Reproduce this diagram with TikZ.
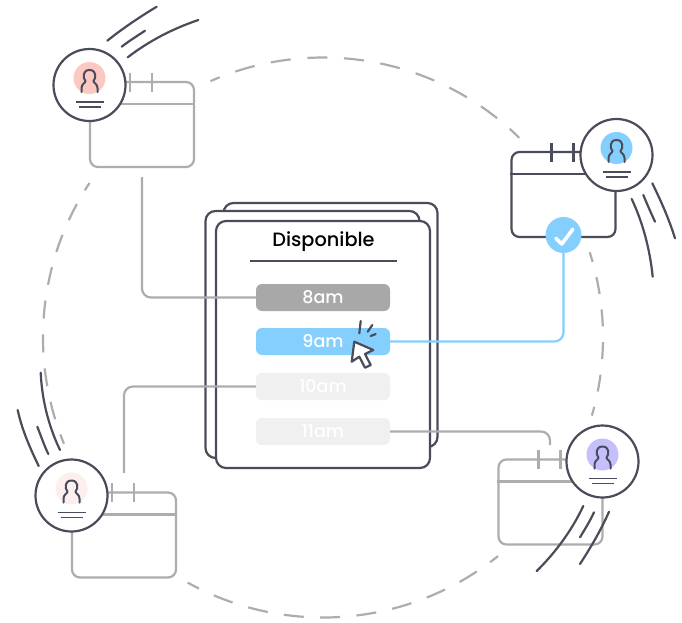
\documentclass[tikz,border=0pt]{standalone}
\usepackage{fontspec}
\setmainfont{Poppins}
\newfontfamily\medfont{Poppins Medium}
\usetikzlibrary{calc}
\definecolor{ink}{HTML}{4A4C5A}
\definecolor{soft}{HTML}{ADADAD}
\definecolor{sky}{HTML}{85CFFF}
\definecolor{pillgray}{HTML}{A8A8A8}
\definecolor{pilllight}{HTML}{F0F0F0}
\definecolor{rosea}{HTML}{FBC8C2}
\definecolor{roseb}{HTML}{FDEEF0}
\definecolor{lilac}{HTML}{C5BFFB}
\tikzset{
  card/.style={draw=ink,fill=white,line width=2.2pt,rounded corners=10pt,minimum width=214pt,inner sep=0pt},
  pill/.style={rounded corners=6pt,minimum width=134pt,minimum height=27pt,inner sep=0pt,text=white,font=\medfont\fontsize{17.5}{17.5}\selectfont,text depth=0pt,text height=12pt},
  calbox/.style={draw=#1,line width=2.2pt,rounded corners=8pt,minimum width=104pt,minimum height=85pt,inner sep=0pt},
  calline/.style={draw=#1,line width=2.2pt},
  avatar/.style={draw=ink,fill=white,line width=2.2pt,circle,minimum size=72pt,inner sep=0pt},
  link/.style={line width=2.2pt,rounded corners=9pt},
  swoosh/.style={draw=ink,line width=2.2pt,line cap=round},
  ring/.style={draw=soft,line width=2.2pt},
}
% name, center x, center y, colour
\newcommand{\calsheet}[4]{
  \node[calbox=#4] (#1) at (#2,#3) {};
  \draw[calline=#4] ($(#1.north west)+(0,23)$) -- ($(#1.north east)+(0,23)$);
  \draw[calline=#4] ($(#1.north west)+(41,-8)$) -- ($(#1.north west)+(41,11)$);
  \draw[calline=#4] ($(#1.north west)+(63,-8)$) -- ($(#1.north west)+(63,11)$);
}
% name, center x, center y, colour
\newcommand{\personmark}[4]{
  \node[avatar] (#1) at (#2,#3) {};
  \fill[#4] ($(#1)+(0,-7)$) circle[radius=16];
  \draw[ink,line width=2pt,line cap=round,line join=round]
    ($(#1)+(-8,7)$) -- ($(#1)+(-8,3)$)
    .. controls ($(#1)+(-8,-1)$) and ($(#1)+(-4,-2)$) .. ($(#1)+(-4,-4)$)
    .. controls ($(#1)+(-7,-7)$) and ($(#1)+(-7,-15)$) .. ($(#1)+(0,-15)$)
    .. controls ($(#1)+(7,-15)$) and ($(#1)+(7,-7)$) .. ($(#1)+(4,-4)$)
    .. controls ($(#1)+(4,-2)$) and ($(#1)+(8,-1)$) .. ($(#1)+(8,3)$) -- ($(#1)+(8,7)$);
  \draw[ink,line width=1.8pt] ($(#1)+(-14,17)$) -- ($(#1)+(14,17)$);
  \draw[ink,line width=1.8pt] ($(#1)+(-11,22)$) -- ($(#1)+(11,22)$);
}
\begin{document}
\begin{tikzpicture}[x=1pt,y=-1pt]
\useasboundingbox (0,0) rectangle (682,622);
\fill[white] (0,0) rectangle (682,622);

% dashed ring
\draw[ring,dash pattern=on 20pt off 16.7pt,dash phase=10pt] plot[domain=-113.7:-45.5,samples=80] ({323+280*cos(\x)},{337.5+280*sin(\x)});
\draw[ring,dash pattern=on 17pt off 15.7pt,dash phase=7pt] plot[domain=-17.7:16.2,samples=40] ({323+280*cos(\x)},{337.5+280*sin(\x)});
\draw[ring,dash pattern=on 20pt off 16.4pt,dash phase=10pt] plot[domain=51.3:118.9,samples=80] ({323+280*cos(\x)},{337.5+280*sin(\x)});
\draw[ring,dash pattern=on 18pt off 16pt,dash phase=8pt] plot[domain=157.7:213.5,samples=70] ({323+280*cos(\x)},{337.5+280*sin(\x)});

% calendars
\calsheet{calA}{142}{124.5}{soft}
\calsheet{calB}{563.5}{194.5}{ink}
\calsheet{calC}{124}{535}{soft}
\calsheet{calD}{550.5}{502}{soft}

% stacked cards
\node[card,minimum height=244pt] (back) at (330.5,325) {};
\node[card,minimum height=247pt] (mid) at (312.5,334.5) {};
\node[card,minimum height=247pt] (front) at (323,344.5) {};
\node[font=\medfont\fontsize{19.3}{19.3}\selectfont,text=black] (title) at (323.5,241.5) {Disponible};
\coordinate (ruleL) at (250,261);
\coordinate (ruleR) at (397,261);
\draw[ink,line width=2.2pt] (ruleL) -- (ruleR);

% time slots
\node[pill,fill=pillgray] (p8) at (323,297.5) {8am};
\node[pill,fill=sky] (p9) at (323,341.5) {9am};
\node[pill,fill=pilllight] (p10) at (323,386.5) {10am};
\node[pill,fill=pilllight] (p11) at (323,431.5) {11am};

% check badge
\node[circle,fill=sky,minimum size=36pt,inner sep=0pt] (check) at (563.5,235) {};
\draw[white,line width=3.6pt,line cap=round,line join=round]
  ($(check)+(-7.7,3.3)$) -- ($(check)+(-1.7,9)$) -- ($(check)+(9.3,-5.7)$);

% connectors
\coordinate (endA) at (142,177);
\coordinate (endC) at (124,473);
\coordinate (endD) at (550,445);
\draw[link,soft] (endA) |- (p8.west);
\draw[link,sky] (p9.east) -| (check.south);
\draw[link,soft] (endC) |- (p10.west);
\draw[link,soft] (p11.east) -| (endD);

% avatars
\personmark{avA}{89.5}{85}{rosea}
\personmark{avB}{616.5}{155}{sky}
\personmark{avC}{71.5}{495.5}{roseb}
\personmark{avD}{602.5}{461.5}{lilac}

% motion strokes
\draw[swoosh] (107.3,40.7) .. controls (122,29) and (138,18) .. (156.7,6.7);
\draw[swoosh] (121.7,46.7) .. controls (129,41) and (137,36) .. (145,30.7);
\draw[swoosh] (127.7,57.3) .. controls (149,41) and (172,29) .. (198.3,20);
\draw[swoosh] (652.3,183.3) .. controls (661,201) and (669,219) .. (675,238.3);
\draw[swoosh] (643.3,195) .. controls (647,204) and (651,213) .. (655,221.7);
\draw[swoosh] (631.7,199) .. controls (643,223) and (650,250) .. (652.7,276.7);
\draw[swoosh] (40.7,372.7) .. controls (42,401) and (49,427) .. (60,450);
\draw[swoosh] (37.3,426.7) .. controls (41,436) and (44,445) .. (48.3,454);
\draw[swoosh] (17.7,410) .. controls (22,430) and (30,448) .. (38.7,466);
\draw[swoosh] (583.3,506) .. controls (572,530) and (556,552) .. (536.7,571);
\draw[swoosh] (594,512.3) .. controls (590,521) and (585,529) .. (580,537.3);
\draw[swoosh] (609,511.7) .. controls (601,530) and (591,547) .. (580,564);

% cursor
\draw[ink,fill=white,line width=2.2pt,line join=round]
  (354.3,341.7) -- (373.3,350) -- (365,354) -- (370.7,365) -- (365,367.7)
  -- (359.3,356.7) -- (351.7,361.7) -- cycle;
\draw[swoosh] (360.7,321) -- (359.3,333.3);
\draw[swoosh] (372.3,325) -- (367.7,331.7);
\draw[swoosh] (375.7,334) -- (370.7,336);
\end{tikzpicture}
\end{document}
